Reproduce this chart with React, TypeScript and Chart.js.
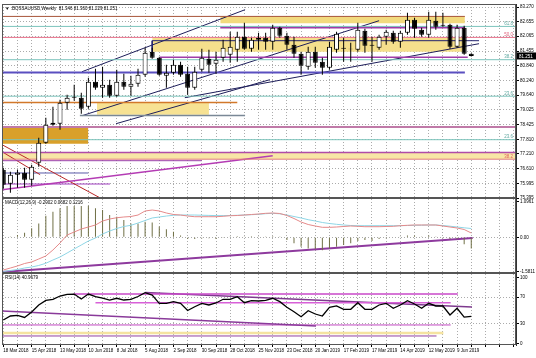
import React, { useEffect, useRef } from "react";
import { Chart, registerables } from "chart.js";
Chart.register(...registerables);

// ---------- data ----------
const dateLabels = ["18 Mar 2018", "15 Apr 2018", "13 May 2018", "10 Jun 2018", "8 Jul 2018", "5 Aug 2018", "2 Sep 2018", "30 Sep 2018", "28 Oct 2018", "25 Nov 2018", "23 Dec 2018", "20 Jan 2019", "17 Feb 2019", "17 Mar 2019", "14 Apr 2019", "12 May 2019", "9 Jun 2019"];

const opens = [76.562, 75.985, 76.356, 76.438, 76.150, 76.851, 77.675, 78.417, 78.458, 79.324, 79.530, 79.530, 79.160, 80.190, 79.943, 80.067, 79.613, 80.190, 79.984, 80.108, 80.479, 81.427, 81.180, 80.438, 80.561, 80.891, 80.520, 79.943, 80.685, 81.139, 80.932, 81.180, 81.303, 81.510, 82.046, 81.551, 81.922, 82.005, 81.839, 82.417, 82.087, 81.716, 81.345, 80.809, 81.427, 81.015, 80.768, 81.510, 81.551, 81.530, 81.510, 82.293, 81.675, 81.592, 82.046, 82.210, 81.839, 82.210, 82.746, 82.334, 82.128, 82.705, 82.499, 82.540, 81.633, 82.417, 81.346];
const highs = [76.644, 76.479, 76.562, 76.644, 76.768, 77.881, 78.706, 79.159, 79.448, 79.654, 80.067, 79.737, 80.355, 80.726, 80.809, 80.273, 80.685, 80.520, 80.438, 80.726, 81.592, 81.592, 81.221, 80.891, 81.097, 81.015, 80.809, 80.809, 81.551, 81.510, 81.427, 81.922, 82.252, 82.252, 82.623, 82.005, 82.210, 82.210, 82.540, 82.458, 82.210, 82.046, 81.427, 81.633, 81.633, 81.180, 81.839, 82.252, 82.005, 81.798, 82.623, 82.375, 82.046, 82.128, 82.334, 82.293, 82.293, 83.035, 82.829, 82.417, 83.076, 83.076, 83.035, 82.582, 82.540, 82.499, 81.360];
const lows = [75.778, 75.614, 75.820, 75.820, 75.902, 76.685, 77.634, 78.376, 78.212, 79.036, 79.407, 78.871, 79.077, 79.860, 79.531, 79.531, 79.572, 79.860, 79.613, 79.984, 80.396, 81.139, 80.438, 79.943, 80.479, 80.396, 79.654, 79.860, 80.603, 80.561, 80.520, 81.015, 80.974, 81.015, 81.510, 81.427, 81.510, 81.510, 81.510, 82.005, 81.510, 81.180, 80.479, 80.685, 80.768, 80.479, 80.685, 81.386, 81.015, 81.015, 81.427, 81.386, 81.015, 81.510, 81.716, 81.757, 81.592, 82.128, 82.005, 82.046, 82.005, 82.334, 82.458, 81.551, 81.592, 81.303, 81.229];
const closes = [75.944, 76.356, 76.451, 76.150, 76.685, 77.675, 78.417, 78.500, 79.324, 79.530, 79.572, 79.077, 80.190, 79.943, 80.067, 79.613, 80.190, 79.984, 80.108, 80.479, 81.386, 81.180, 80.479, 80.561, 80.891, 80.479, 79.943, 80.603, 81.180, 80.891, 81.097, 81.592, 81.633, 82.046, 81.551, 81.922, 82.005, 81.839, 82.417, 82.087, 81.716, 81.345, 80.850, 81.427, 80.974, 80.768, 81.633, 82.169, 81.592, 81.551, 82.334, 81.675, 81.716, 82.046, 82.252, 81.839, 82.210, 82.746, 82.375, 82.128, 82.746, 82.458, 82.540, 81.633, 82.417, 81.345, 81.251];

const macdHist = [0, 0.01, 0.066, 0.133, 0.26, 0.40, 0.62, 0.74, 0.84, 0.90, 0.90, 0.90, 0.91, 0.84, 0.79, 0.64, 0.59, 0.50, 0.40, 0.40, 0.45, 0.43, 0.31, 0.23, 0.16, 0.05, -0.05, -0.05, -0.03, -0.03, -0.05, -0.02, 0.02, 0.03, 0.02, 0.03, 0.02, 0.01, 0.03, 0.02, -0.08, -0.17, -0.27, -0.32, -0.34, -0.37, -0.32, -0.27, -0.22, -0.17, -0.11, -0.08, -0.11, -0.05, -0.03, -0.01, 0.01, 0.05, 0.05, 0.01, 0.05, 0.01, -0.03, -0.05, -0.05, -0.20, -0.32];
const macdMain = [-0.943, -0.886, -0.828, -0.756, -0.712, -0.626, -0.539, -0.366, -0.164, 0.066, 0.153, 0.239, 0.297, 0.355, 0.470, 0.528, 0.565, 0.586, 0.600, 0.643, 0.759, 0.787, 0.759, 0.701, 0.658, 0.643, 0.614, 0.594, 0.594, 0.594, 0.594, 0.606, 0.623, 0.629, 0.643, 0.658, 0.672, 0.692, 0.701, 0.687, 0.629, 0.542, 0.441, 0.369, 0.326, 0.288, 0.288, 0.297, 0.312, 0.326, 0.317, 0.306, 0.306, 0.306, 0.312, 0.317, 0.335, 0.346, 0.355, 0.355, 0.355, 0.355, 0.326, 0.297, 0.268, 0.225, 0.124];
const macdSignal = [-0.986, -0.958, -0.929, -0.886, -0.857, -0.813, -0.750, -0.655, -0.568, -0.453, -0.337, -0.222, -0.107, -0.020, 0.095, 0.182, 0.254, 0.312, 0.346, 0.412, 0.485, 0.557, 0.586, 0.614, 0.635, 0.643, 0.643, 0.643, 0.637, 0.632, 0.626, 0.626, 0.629, 0.635, 0.643, 0.652, 0.663, 0.681, 0.692, 0.678, 0.643, 0.600, 0.557, 0.508, 0.470, 0.427, 0.398, 0.375, 0.355, 0.340, 0.335, 0.335, 0.335, 0.335, 0.335, 0.335, 0.335, 0.340, 0.346, 0.349, 0.355, 0.355, 0.340, 0.320, 0.297, 0.274, 0.254];
const rsiValues = [35.7, 41.7, 42.5, 39.5, 47.7, 58.3, 65.1, 66.9, 71.8, 74.4, 74.8, 67.3, 74.8, 70.8, 68.8, 65.8, 68.4, 65.8, 66.9, 71.1, 76.8, 73.3, 60.8, 60.8, 63.3, 60.8, 50.0, 55.7, 60.8, 58.3, 61.3, 66.9, 66.9, 70.8, 61.7, 64.8, 64.3, 65.1, 68.4, 63.3, 54.8, 48.2, 40.7, 49.7, 44.7, 41.7, 54.8, 56.8, 51.8, 51.8, 61.7, 51.8, 51.8, 58.3, 60.8, 53.3, 58.3, 64.8, 59.8, 53.3, 60.8, 56.8, 56.8, 43.2, 53.3, 40.0, 41.0];

const priceTicks = [83.270, 82.655, 82.065, 81.455, 80.840, 80.240, 79.640, 79.025, 78.425, 77.810, 77.210, 76.610, 75.995, 75.395];
const macdTicks = [1.02, 0, -1.0];
const macdTickLabels = ["1.0961", "0.00", "-1.5811"];
const rsiTicks = [100, 70, 30, 0];

// drawn objects on the price pane: [barFrom, priceFrom, barTo, priceTo]
const priceLines = [
  [-0.18, 82.882, 65.1, 82.882],
  [-0.18, 82.470, 72.3, 82.470],
  [30.6, 82.429, 65.1, 82.429],
  [-0.18, 82.017, 72.3, 82.017],
  [21.0, 81.881, 67.1, 81.881],
  [21.0, 81.881, 21.0, 81.386],
  [22.1, 81.200, 65.5, 81.200],
  [-0.18, 81.097, 72.3, 81.097],
  [-0.18, 80.574, 65.1, 80.574],
  [-0.18, 79.592, 72.3, 79.592],
  [-0.18, 79.337, 33.0, 79.337],
  [10.8, 78.801, 34.1, 78.801],
  [-0.18, 78.323, 72.3, 78.323],
  [-0.18, 77.799, 72.3, 77.799],
  [-0.18, 77.275, 72.3, 77.275],
  [-0.18, 76.995, 72.3, 76.995],
  [-0.18, 76.933, 28.0, 76.933],
  [-0.18, 75.737, 38.0, 77.139],
  [-0.18, 77.593, 13.6, 75.407],
  [-0.18, 77.304, 5.2, 76.356],
  [-0.18, 76.426, 12.0, 76.426],
  [-0.18, 75.972, 15.05, 75.972],
  [11.1, 80.602, 34.1, 83.159],
  [11.1, 78.788, 53.0, 82.705],
  [15.9, 78.459, 37.6, 80.273],
  [25.6, 79.531, 67.1, 81.757],
];
// zones on the price pane: [barFrom, barTo, priceTop, priceBottom]
const priceZones = [
  [30.6, 65.1, 82.882, 82.602],
  [21.0, 65.1, 82.004, 81.427],
  [13.2, 29.0, 79.312, 78.830],
  [-0.18, 12.0, 78.323, 77.634],
  [-0.18, 72.3, 77.250, 77.004],
];
const fibPrices = [82.470, 82.017, 81.097, 79.592, 77.799, 76.995];
const fibTexts = ["61.8", "50.0", "38.2", "23.6", "23.6", "38.2"];

const macdLines = [[-0.18, -1.0, 66.2, -0.02]];
const rsiLines = [
  [9.9, 74.8, 64.1, 74.8],
  [13.0, 61.7, 63.1, 61.7],
  [20.0, 77.1, 66.1, 55.3],
  [-0.18, 49.2, 44.1, 26.7],
  [-0.18, 28.2, 63.1, 28.2],
  [-0.18, 11.6, 61.1, 11.6],
];
const rsiZones = [[-0.18, 62.1, 18.1, 14.2]];

const titles = ["\u25BC .BOSSAUUSD,Weekly  81.346 81.360 81.229 81.251", "MACD(12,26,9) -0.2902 0.0682 0.1216", "RSI(14) 40.9679"];

// ---------- styles ----------
const priceLineStyles = [
  { c: "#a8553a", w: 1 }, { c: "#7cc4bc", w: 1 }, { c: "#a03ca8", w: 2 }, { c: "#e8708a", w: 1 },
  { c: "#23236e", w: 1 }, { c: "#23236e", w: 1 }, { c: "#a03ca8", w: 1.5 }, { c: "#7cc4bc", w: 1 },
  { c: "#5a4fc0", w: 2 }, { c: "#7cc4bc", w: 1 }, { c: "#d2782a", w: 1.5 }, { c: "#7a8896", w: 1.5 },
  { c: "#c07aa8", w: 2 }, { c: "#7cc4bc", w: 1 }, { c: "#b04ca8", w: 1.5 }, { c: "#e07a7a", w: 1 },
  { c: "#9c40a8", w: 1 }, { c: "#b43cb4", w: 1.5 }, { c: "#b82828", w: 1 }, { c: "#b82828", w: 1 },
  { c: "#5a5aa8", w: 1 }, { c: "#a040c0", w: 1 }, { c: "#1e1e5a", w: 1 }, { c: "#1e1e5a", w: 1 },
  { c: "#1e1e5a", w: 1 }, { c: "#1e1e5a", w: 1 },
];
const priceZoneColors = ["#f2da7e", "#f5df8c", "#f7e293", "#d9a02a", "#f8e6a6"];
const fibColors = ["#5fa8a0", "#e0607a", "#5fa8a0", "#5fa8a0", "#5fa8a0", "#e06060"];
const macdLineStyles = [{ c: "#8e3a9e", w: 2 }];
const rsiLineStyles = [
  { c: "#c848c8", w: 1.5 }, { c: "#d860d8", w: 1.5 }, { c: "#7e3a8e", w: 1.5 },
  { c: "#8a3a9a", w: 1.5 }, { c: "#c048c0", w: 1 }, { c: "#9040a0", w: 1 },
];
const rsiZoneColors = ["#f5e3a0"];

const FONT = { family: '"Liberation Sans", Arial, sans-serif', size: 4.5 };
const GRID = "#ababab";

function lineSet(l: number[], st: { c: string; w: number }, axis: string, order: number) {
  return {
    type: "line",
    data: [{ x: l[0], y: l[1] }, { x: l[2], y: l[3] }],
    borderColor: st.c,
    borderWidth: st.w,
    pointRadius: 0,
    fill: false,
    yAxisID: axis,
    order,
  };
}
function zoneSet(z: number[], color: string, axis: string) {
  return {
    type: "line",
    data: [{ x: z[0], y: z[2] }, { x: z[1], y: z[2] }],
    borderColor: "transparent",
    borderWidth: 0,
    backgroundColor: color,
    fill: { value: z[3] },
    pointRadius: 0,
    yAxisID: axis,
    order: 20,
  };
}

const framePlugin = {
  id: "mtFrame",
  afterDraw(chart: any) {
    const { ctx, chartArea, scales } = chart;
    const ids = ["y", "ym", "yr"];
    ctx.save();
    ctx.strokeStyle = "#555555";
    ctx.lineWidth = 1;
    ids.forEach((id) => {
      const s = scales[id];
      ctx.strokeRect(chartArea.left + 0.5, s.top + 0.5, chartArea.right - chartArea.left - 1, s.bottom - s.top - 1);
    });
    ctx.font = `${FONT.size}px ${FONT.family}`;
    ctx.fillStyle = "#000";
    ctx.textBaseline = "top";
    ctx.textAlign = "left";
    ids.forEach((id, k) => {
      ctx.fillText(titles[k], chartArea.left + 3, scales[id].top + 3);
    });
    ctx.textAlign = "right";
    ctx.textBaseline = "bottom";
    fibPrices.forEach((p, k) => {
      ctx.fillStyle = fibColors[k];
      ctx.fillText(fibTexts[k], chartArea.right - 3, scales.y.getPixelForValue(p) - 0.5);
    });
    const last = closes[closes.length - 1];
    const py = scales.y.getPixelForValue(last);
    ctx.fillStyle = "#000";
    ctx.fillRect(chartArea.right + 1, py - 3.5, 19, 7);
    ctx.fillStyle = "#fff";
    ctx.textAlign = "left";
    ctx.textBaseline = "middle";
    ctx.fillText(last.toFixed(3), chartArea.right + 3, py + 0.3);
    ctx.restore();
  },
};

export default function App() {
  const ref = useRef<HTMLCanvasElement>(null);
  useEffect(() => {
    const datasets: any[] = [];
    datasets.push({
      type: "bar",
      data: opens.map((o, i) => ({ x: i, y: [o, closes[i]] })),
      backgroundColor: opens.map((o, i) => (closes[i] >= o ? "#ffffff" : "#000000")),
      borderColor: "#000",
      borderWidth: 1,
      borderSkipped: false,
      barThickness: 5,
      inflateAmount: 0,
      grouped: false,
      yAxisID: "y",
      order: 0,
    });
    datasets.push({
      type: "bar",
      data: highs.map((h, i) => ({ x: i, y: [lows[i], h] })),
      backgroundColor: "#000",
      borderWidth: 0,
      barThickness: 1,
      inflateAmount: 0,
      grouped: false,
      yAxisID: "y",
      order: 1,
    });
    priceLines.forEach((l, k) => datasets.push(lineSet(l, priceLineStyles[k], "y", 5)));
    priceZones.forEach((z, k) => datasets.push(zoneSet(z, priceZoneColors[k], "y")));

    datasets.push({
      type: "bar",
      data: macdHist.map((v, i) => ({ x: i, y: v })),
      backgroundColor: "#6f6f45",
      borderWidth: 0,
      barThickness: 1,
      inflateAmount: 0,
      grouped: false,
      yAxisID: "ym",
      order: 3,
    });
    datasets.push({ type: "line", data: macdMain.map((v, i) => ({ x: i, y: v })), borderColor: "#e58a8a", borderWidth: 1, pointRadius: 0, fill: false, yAxisID: "ym", order: 2 });
    datasets.push({ type: "line", data: macdSignal.map((v, i) => ({ x: i, y: v })), borderColor: "#8ed6e6", borderWidth: 1, pointRadius: 0, fill: false, yAxisID: "ym", order: 2 });
    macdLines.forEach((l, k) => datasets.push(lineSet(l, macdLineStyles[k], "ym", 4)));

    datasets.push({ type: "line", data: rsiValues.map((v, i) => ({ x: i, y: v })), borderColor: "#000", borderWidth: 1.3, pointRadius: 0, fill: false, yAxisID: "yr", order: 1 });
    rsiLines.forEach((l, k) => datasets.push(lineSet(l, rsiLineStyles[k], "yr", 5)));
    rsiZones.forEach((z, k) => datasets.push(zoneSet(z, rsiZoneColors[k], "yr")));

    const yCommon = (w: number) => ({
      type: "linear",
      position: "right",
      stack: "panes",
      stackWeight: w,
      offset: false,
      beginAtZero: false,
      afterFit: (s: any) => { s.width = 20; },
      border: { display: true, color: "#333", width: 1, dash: [1, 2] },
      ticks: { font: FONT, color: "#000", padding: 1, crossAlign: "near", autoSkip: false },
    });

    const chart = new Chart(ref.current as HTMLCanvasElement, {
      type: "line",
      data: { datasets },
      options: {
        animation: false,
        responsive: false,
        devicePixelRatio: 1,
        events: [],
        layout: { padding: { left: 2, top: 4, right: 0, bottom: 0 } },
        plugins: { legend: { display: false }, tooltip: { enabled: false } },
        scales: {
          x: {
            type: "linear",
            position: "bottom",
            min: -0.183,
            max: 72.31,
            offset: false,
            afterFit: (s: any) => { s.height = 13; },
            afterBuildTicks: (s: any) => { s.ticks = Array.from({ length: 37 }, (_, i) => ({ value: i * 2 })); },
            border: { display: false, dash: [1, 2] },
            grid: { color: GRID, lineWidth: 1, offset: false, tickLength: 2, tickColor: "#000", tickBorderDash: [] },
            ticks: {
              font: FONT, color: "#000", padding: 1, autoSkip: false, maxRotation: 0, minRotation: 0, align: "start",
              callback: (v: any) => (v % 4 === 0 && v / 4 < dateLabels.length ? dateLabels[v / 4] : ""),
            },
          },
          y: {
            ...yCommon(194),
            min: 75.395,
            max: 83.394,
            afterBuildTicks: (s: any) => { s.ticks = priceTicks.map((v) => ({ value: v })); },
            grid: { color: GRID, tickLength: 3, tickColor: "#000", tickBorderDash: [] },
            ticks: { ...yCommon(1).ticks, callback: (v: any) => Number(v).toFixed(3) },
          },
          ym: {
            ...yCommon(75),
            min: -1.03,
            max: 1.134,
            afterBuildTicks: (s: any) => { s.ticks = macdTicks.map((v) => ({ value: v })); },
            grid: { color: (c: any) => (c.tick && c.tick.value === 0 ? GRID : "transparent"), tickLength: 3, tickColor: "#000", tickBorderDash: [] },
            ticks: { ...yCommon(1).ticks, callback: (_v: any, i: number) => macdTickLabels[i] },
          },
          yr: {
            ...yCommon(72),
            min: -2,
            max: 106.5,
            afterBuildTicks: (s: any) => { s.ticks = rsiTicks.map((v) => ({ value: v })); },
            grid: { color: (c: any) => (c.tick && (c.tick.value === 70 || c.tick.value === 30) ? GRID : "transparent"), tickLength: 3, tickColor: "#000", tickBorderDash: [] },
            ticks: { ...yCommon(1).ticks, callback: (v: any) => String(v) },
          },
        },
      } as any,
      plugins: [framePlugin],
    } as any);
    return () => chart.destroy();
  }, []);
  return (
    <div style={{ position: "absolute", left: 0, top: 0, width: 536, height: 358, background: "#fff" }}>
      <canvas ref={ref} width={536} height={358} style={{ display: "block", width: 536, height: 358 }} />
    </div>
  );
}
